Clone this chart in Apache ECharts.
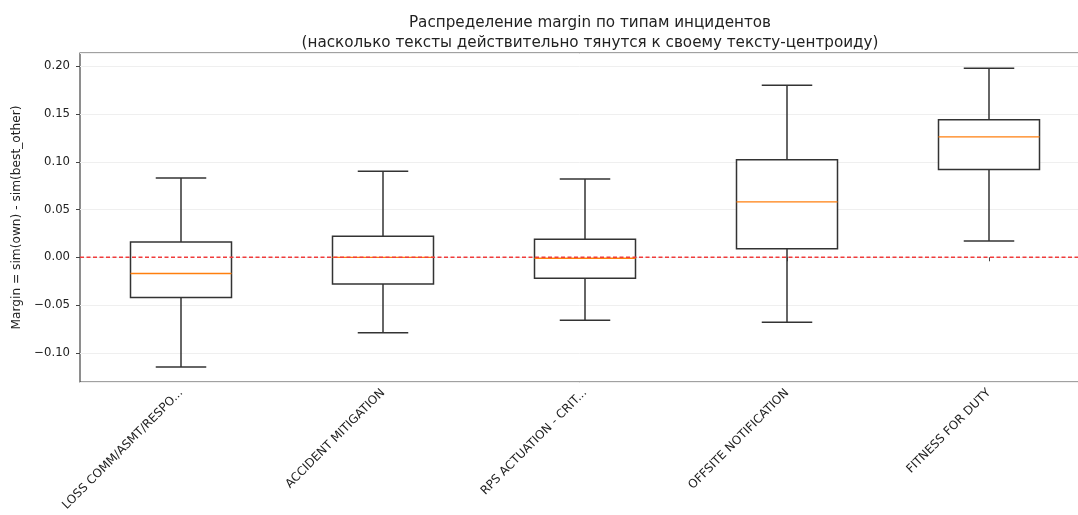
<!DOCTYPE html>
<html>
<head>
<meta charset="utf-8">
<script src="https://cdn.jsdelivr.net/npm/echarts@6/dist/echarts.min.js"></script>
<style>
  html, body { margin: 0; padding: 0; background: #fff; }
  #main { width: 1078px; height: 515px; }
</style>
</head>
<body>
<div id="main"></div>
<script>
// типы инцидентов и статистики box plot (читается с картинки)
var categories = ['LOSS COMM/ASMT/RESPO...', 'ACCIDENT MITIGATION', 'RPS ACTUATION - CRIT...', 'OFFSITE NOTIFICATION', 'FITNESS FOR DUTY'];
var whiskerLow  = [-0.115, -0.079, -0.066, -0.068, 0.017];
var q1          = [-0.042, -0.028, -0.022, 0.009, 0.092];
var medians     = [-0.017, 0.000, -0.001, 0.058, 0.126];
var q3          = [0.016, 0.022, 0.019, 0.102, 0.144];
var whiskerHigh = [0.083, 0.090, 0.082, 0.180, 0.198];
var zeroLine = 0;

var font = 'DejaVu Sans';
var boxData = categories.map(function (c, i) {
    return [i, whiskerLow[i], q1[i], medians[i], q3[i], whiskerHigh[i]];
});

function renderBox(params, api) {
    var i = api.value(0);
    var band = api.size([1, 0])[0];
    var half = band * 0.25, cap = band * 0.125;
    var low = api.coord([i, api.value(1)]);
    var b1 = api.coord([i, api.value(2)]);
    var md = api.coord([i, api.value(3)]);
    var b3 = api.coord([i, api.value(4)]);
    var high = api.coord([i, api.value(5)]);
    var x = low[0];
    var st = { stroke: '#333', lineWidth: 1.5, fill: null };
    return {
        type: 'group',
        children: [
            { type: 'line', shape: { x1: x, y1: high[1], x2: x, y2: b3[1] }, style: st },
            { type: 'line', shape: { x1: x, y1: b1[1], x2: x, y2: low[1] }, style: st },
            { type: 'line', shape: { x1: x - cap, y1: high[1], x2: x + cap, y2: high[1] }, style: st },
            { type: 'line', shape: { x1: x - cap, y1: low[1], x2: x + cap, y2: low[1] }, style: st },
            { type: 'rect', shape: { x: x - half, y: b3[1], width: half * 2, height: b1[1] - b3[1] },
              style: { fill: '#fff', stroke: '#333', lineWidth: 1.5 } },
            { type: 'line', shape: { x1: x - half, y1: md[1], x2: x + half, y2: md[1] },
              style: { stroke: '#ff7f0e', lineWidth: 1.3 } }
        ]
    };
}

// горизонтальная линия y = 0 на всю ширину области графика
function renderZero(params, api) {
    var cs = params.coordSys;
    var y = api.coord([0, api.value(1)])[1];
    return {
        type: 'line',
        shape: { x1: cs.x, y1: y, x2: cs.x + cs.width, y2: y },
        style: { stroke: '#f03c3c', lineWidth: 1.5, lineDash: [4, 2.5] }
    };
}

var myChart = echarts.init(document.getElementById('main'));
var option = {
    animation: false,
    title: {
        text: 'Распределение margin по типам инцидентов\n(насколько тексты действительно тянутся к своему тексту-центроиду)',
        left: 585,
        top: 8,
        textAlign: 'center',
        textStyle: { fontFamily: font, fontSize: 15.2, fontWeight: 'normal', color: '#222', lineHeight: 20 }
    },
    grid: {
        left: 80,
        top: 53,
        height: 329,
        width: 1010,
        outerBoundsMode: 'none',
        containLabel: false,
        show: true,
        borderColor: '#444',
        borderWidth: 1.2
    },
    xAxis: {
        type: 'category',
        data: categories,
        axisLine: { show: false },
        axisTick: { show: true, alignWithLabel: true, length: 4, lineStyle: { color: '#444' } },
        axisLabel: {
            rotate: 45,
            interval: 0,
            margin: 9,
            fontFamily: font,
            fontSize: 11.9,
            color: '#222'
        },
        splitLine: { show: false }
    },
    yAxis: {
        type: 'value',
        min: -0.1306,
        max: 0.2139,
        splitNumber: 7,
        name: 'Margin = sim(own) - sim(best_other)',
        nameLocation: 'middle',
        nameRotate: 90,
        nameGap: 54,
        nameTextStyle: { fontFamily: font, fontSize: 12.2, color: '#222' },
        axisLine: { show: false },
        axisTick: { show: true, length: 4, lineStyle: { color: '#444' } },
        axisLabel: {
            showMinLabel: false,
            showMaxLabel: false,
            margin: 10,
            fontFamily: font,
            fontSize: 11.7,
            color: '#222',
            formatter: function (v) {
                var s = Math.abs(v).toFixed(2);
                return v < -1e-9 ? '\u2212' + s : s;
            }
        },
        splitLine: { show: true, lineStyle: { color: '#efefef', width: 1 } }
    },
    series: [
        {
            type: 'custom',
            silent: true,
            renderItem: renderBox,
            data: boxData,
            encode: { x: 0, y: [1, 2, 3, 4, 5] },
            z: 2
        },
        {
            type: 'custom',
            silent: true,
            renderItem: renderZero,
            data: [[0, zeroLine]],
            encode: { x: 0, y: 1 },
            z: 5
        }
    ]
};
myChart.setOption(option);
</script>
</body>
</html>
